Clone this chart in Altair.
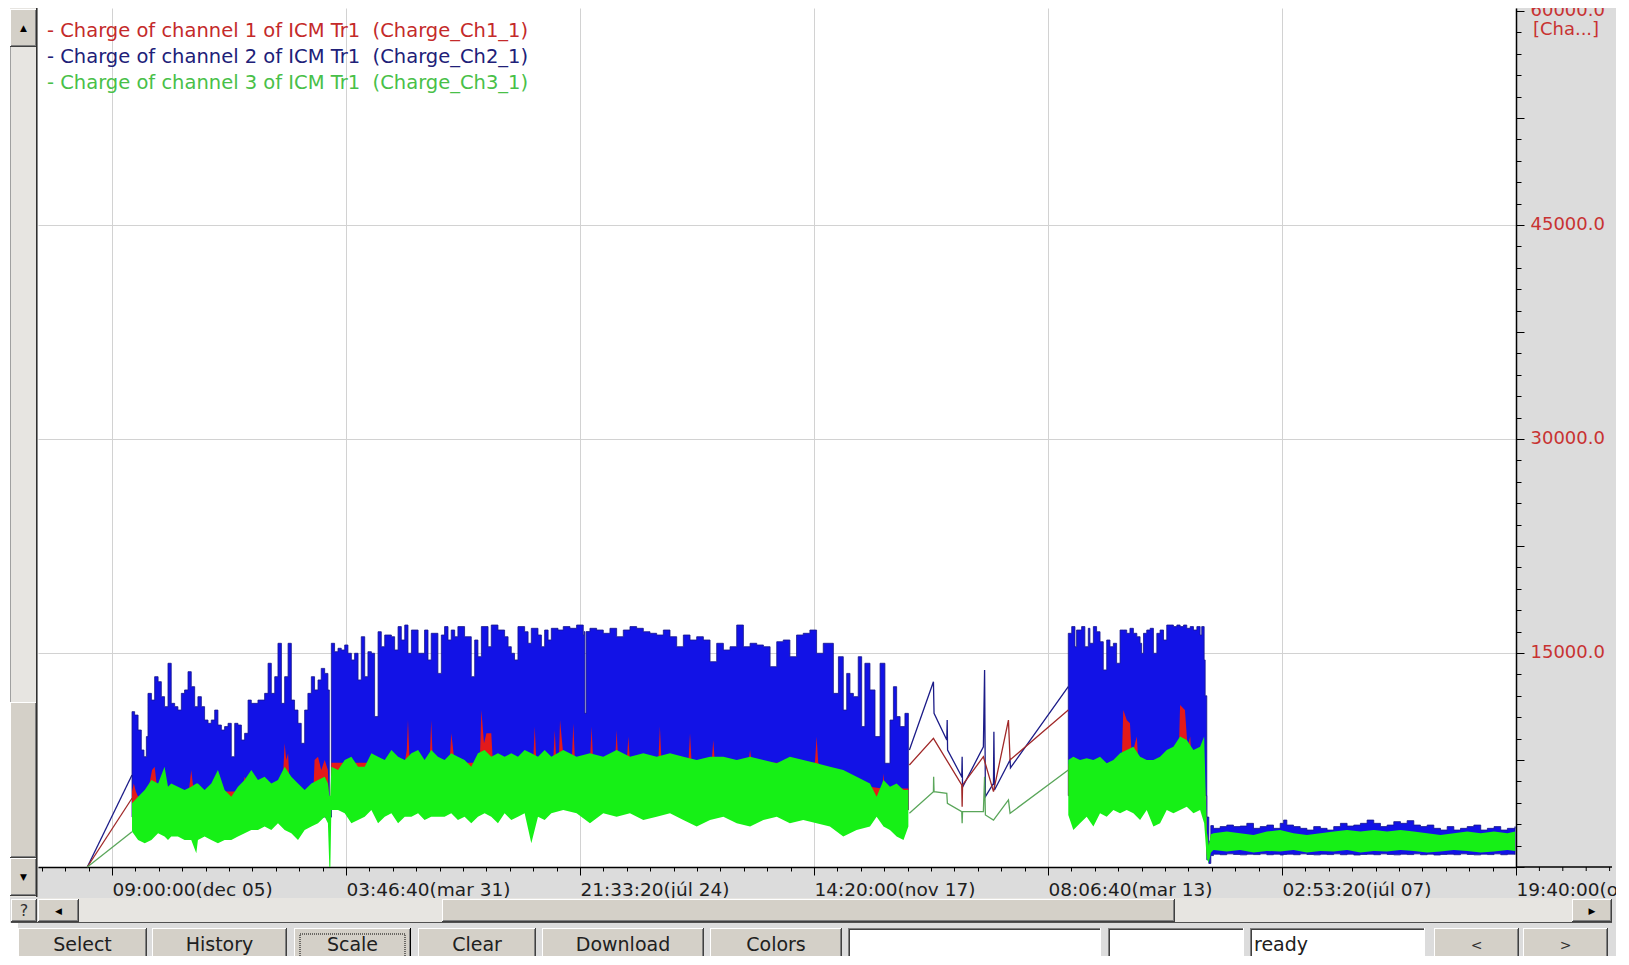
import altair as alt
import pandas as pd

# ---------------- texts ----------------
SERIES_NAMES = [
    "Charge of channel 1 of ICM Tr1\u00a0 (Charge_Ch1_1)",
    "Charge of channel 2 of ICM Tr1\u00a0 (Charge_Ch2_1)",
    "Charge of channel 3 of ICM Tr1\u00a0 (Charge_Ch3_1)",
]
X_TICK_LABELS = ["09:00:00(dec 05)", "03:46:40(mar 31)", "21:33:20(júl 24)",
                 "14:20:00(nov 17)", "08:06:40(mar 13)", "02:53:20(júl 07)",
                 "19:40:00(okt 30)"]
Y_UNIT = "[Cha...]"
BUTTONS = ["Select", "History", "Scale", "Clear", "Download", "Colors"]
STATUS = "ready"

# ---------------- data ----------------
# time = days after the first labelled tick (2009-12-05 09:00); values = charge
# dense parts are given as envelopes (day, top, bottom)
ch2_r1 = [
    (9.9, 10890, 3500), (11.2, 10650, 3500), (12.9, 9600, 3500), (14.5, 8200, 3500), (15.8, 7730, 3500),
    (17.0, 9140, 3500), (17.8, 12170, 3500), (19.5, 11700, 3500), (21.1, 13340, 3500), (22.8, 12990, 3500),
    (24.4, 11940, 3500), (26.0, 11240, 3500), (27.7, 14280, 3500), (29.3, 11470, 3500), (31.0, 11240, 3500),
    (32.6, 11000, 3500), (34.3, 12170, 3500), (35.9, 12410, 3500), (37.6, 13690, 3500), (39.2, 12640, 3500),
    (40.9, 11240, 3500), (42.5, 11940, 3500), (44.2, 11240, 3500), (45.8, 10300, 3500), (47.5, 10070, 3500),
    (49.1, 10300, 3500), (50.8, 11000, 3500), (52.4, 9950, 3500), (54.1, 9600, 3500), (55.7, 9840, 3500),
    (57.4, 10070, 3500), (59.0, 7730, 3500), (60.7, 10070, 3500), (62.3, 9950, 3500), (64.0, 8900, 3500),
    (65.6, 9370, 3500), (67.3, 11700, 3500), (68.9, 11470, 3500), (72.2, 11700, 3500), (75.5, 12170, 3500),
    (77.2, 14280, 3500), (78.8, 12170, 3500), (80.5, 13340, 3500), (82.1, 15680, 3500), (83.8, 11470, 3500),
    (85.4, 13340, 3500), (87.1, 15680, 3500), (88.7, 11700, 3500), (90.3, 11000, 3500), (92.0, 10070, 3500),
    (93.6, 8670, 3500), (95.3, 11000, 3500), (96.9, 12170, 3500), (98.6, 13340, 3500), (100.2, 12410, 3500),
    (101.9, 13110, 3500), (103.5, 13920, 3500), (105.2, 13570, 3500), (106.8, 12410, 3500), (107.5, 3500, 3500),
    (108.0, 3500, 3500), (108.5, 15680, 5000), (110.1, 15090, 5000), (111.8, 15330, 5000), (113.4, 15210, 5000),
    (115.1, 15560, 5000), (116.7, 14980, 5000), (118.4, 14510, 5000), (120.0, 14980, 5000), (121.7, 13110, 5000),
    (123.3, 16140, 5000), (125.0, 13340, 5000), (126.6, 15090, 5000), (128.3, 14980, 5000), (129.9, 10540, 5000),
    (131.6, 16490, 5000), (133.2, 15440, 5000), (134.9, 16260, 5000), (138.2, 16140, 5000), (139.8, 15210, 5000),
    (141.5, 16850, 5000), (143.1, 15910, 5000), (144.8, 16960, 5000), (146.4, 14980, 5000), (148.1, 16610, 5000),
    (151.4, 14980, 5000), (154.6, 16610, 5000), (156.3, 14510, 5000), (157.9, 16380, 5000), (161.2, 13570, 5000),
    (162.9, 16260, 5000), (164.5, 16850, 5000), (166.2, 15910, 5000), (167.8, 16610, 5000), (169.5, 16140, 5000),
    (171.1, 16850, 5000), (174.4, 16140, 5000), (177.7, 13340, 5000), (179.4, 15910, 5000), (181.0, 14740, 5000),
    (182.7, 16850, 5000), (186.0, 15440, 5000), (187.6, 16960, 5000), (190.9, 16610, 5000), (194.2, 16140, 5000),
    (195.9, 15440, 5000), (197.5, 14980, 5000), (199.1, 14510, 5000), (200.8, 16850, 5000), (204.1, 16490, 5000),
    (205.8, 15680, 5000), (207.4, 16730, 5000), (210.7, 16260, 5000), (212.4, 15440, 5000), (214.0, 16610, 5000),
    (215.7, 15910, 5000), (217.3, 16730, 5000), (220.6, 16610, 5000), (223.2, 16850, 5000), (226.5, 16730, 5000),
    (229.8, 16960, 5000), (233.1, 16260, 5000), (233.6, 16500, 5000), (233.9, 10770, 5000), (234.5, 16500, 5000),
    (236.4, 16730, 5000), (239.7, 16610, 5000), (243.0, 16380, 5000), (246.3, 16730, 5000), (249.6, 16140, 5000),
    (252.9, 16610, 5000), (256.2, 16850, 5000), (259.5, 16730, 5000), (262.8, 16490, 5000), (266.1, 16380, 5000),
    (269.4, 16260, 5000), (272.7, 16610, 5000), (276.0, 16140, 5000), (279.3, 15440, 5000), (282.6, 16260, 5000),
    (285.9, 15910, 5000), (289.2, 16140, 5000), (292.5, 15910, 5000), (295.8, 14390, 5000), (299.1, 15680, 5000),
    (302.4, 15210, 5000), (305.7, 15440, 5000), (309.0, 16960, 5000), (312.3, 15440, 5000), (315.6, 15680, 5000),
    (318.9, 15560, 5000), (322.2, 15440, 5000), (325.5, 14040, 5000), (328.8, 15790, 5000), (332.0, 15910, 5000),
    (335.3, 14740, 5000), (338.6, 16260, 5000), (341.9, 16380, 5000), (345.2, 16610, 5000), (348.5, 14980, 5000),
    (351.8, 15680, 5000), (355.1, 15680, 4000), (356.8, 12170, 4000), (359.3, 14740, 4000), (361.7, 11000, 4000),
    (363.4, 13570, 4000), (365.0, 12170, 4000), (366.7, 11940, 4000), (369.1, 14740, 4000), (370.8, 9840, 4000),
    (372.4, 14280, 4000), (374.9, 12410, 4000), (377.4, 9140, 4000), (379.9, 14280, 4000), (382.3, 7270, 4000),
    (384.8, 10300, 4000), (386.5, 12640, 4000), (388.1, 10540, 4000), (389.8, 9840, 4000), (392.2, 10770, 4000),
    (393.9, 10300, 4000),
]
ch2_r23 = [
    (473.0, 16380, 5000), (474.7, 16850, 5000), (476.3, 15440, 5000), (477.1, 16610, 5000), (479.6, 16850, 5000),
    (481.2, 15440, 5000), (482.9, 16730, 5000), (483.7, 15680, 5000), (485.4, 16850, 5000), (487.0, 16490, 5000),
    (488.7, 15790, 5000), (490.3, 13810, 5000), (492.0, 15910, 5000), (493.6, 15440, 5000), (495.3, 15680, 5000),
    (496.9, 14280, 5000), (498.6, 16610, 5000), (500.2, 16610, 5000), (501.9, 16380, 5000), (503.5, 16730, 5000),
    (505.2, 16380, 5000), (506.9, 16140, 5000), (508.5, 15680, 5000), (509.3, 14980, 5000), (510.2, 16380, 5000),
    (511.8, 16610, 5000), (513.5, 16730, 5000), (515.1, 14980, 5000), (516.8, 16380, 5000), (518.4, 16610, 5000),
    (520.1, 15910, 5000), (521.7, 16960, 5000), (523.4, 16960, 5000), (525.0, 16850, 5000), (526.7, 16960, 5000),
    (528.3, 16850, 5000), (530.0, 16960, 5000), (531.6, 16730, 5000), (533.3, 16850, 5000), (534.9, 16610, 5000),
    (536.6, 16850, 5000), (538.2, 16260, 5000), (539.0, 16850, 5000), (540.2, 14510, 5000), (540.7, 12000, 5000),
    (541.5, 3500, 500), (542.5, 1800, 250), (543.5, 2900, 800),
    (544.8, 2710, 900), (548.1, 2830, 860), (551.4, 2940, 920), (554.7, 2830, 880), (558.0, 2870, 850),
    (561.3, 3060, 900), (564.6, 2710, 870), (567.9, 2830, 920), (571.2, 2940, 860), (574.5, 2710, 900),
    (577.8, 3060, 840), (579.5, 3290, 880), (581.1, 2940, 900), (584.4, 2830, 860), (587.7, 2710, 920),
    (591.0, 2590, 880), (594.4, 2830, 850), (597.7, 2710, 900), (601.0, 2590, 870), (604.3, 2830, 920),
    (607.6, 3060, 860), (610.9, 2870, 900), (614.2, 2940, 840), (617.5, 3060, 880), (620.8, 3290, 900),
    (624.1, 3060, 860), (627.4, 2830, 920), (630.7, 2940, 880), (634.0, 3180, 850), (637.3, 3060, 900),
    (640.6, 3250, 870), (643.9, 2940, 920), (647.2, 2830, 860), (650.5, 2940, 900), (653.8, 2710, 840),
    (657.1, 2590, 880), (660.4, 2830, 900), (663.7, 2590, 860), (667.0, 2710, 920), (670.3, 2830, 880),
    (673.6, 2940, 850), (677.0, 2590, 900), (680.3, 2710, 870), (683.6, 2830, 920), (686.9, 2590, 860),
    (690.2, 2710, 900), (694.0, 2830, 880),
]
ch1_r1 = [
    (9.9, 5300, 3500), (10.8, 5860, 3500), (11.8, 5300, 3500), (12.9, 4930, 3500), (17.8, 5300, 3500),
    (19.8, 6800, 3500), (21.1, 7030, 3500), (22.5, 5300, 3500), (38.0, 5300, 3500), (39.2, 6800, 3500),
    (40.4, 5300, 3500), (64.0, 5300, 3500), (65.6, 6330, 3500), (67.3, 5860, 3500), (68.9, 6560, 3500),
    (70.5, 5300, 3500), (84.2, 5300, 3500), (85.4, 8670, 3500), (86.2, 7500, 3500), (87.1, 7970, 3500),
    (88.0, 5300, 3500), (99.6, 5300, 3500), (100.2, 7500, 3500), (101.9, 7730, 3500), (103.5, 6800, 3500),
    (105.2, 7500, 3500), (106.8, 6800, 3500), (107.5, 3500, 3500), (108.0, 3500, 3500), (108.5, 7300, 5000),
    (144.8, 7300, 5000), (145.8, 8200, 5000), (146.4, 10300, 5000), (147.2, 7300, 5000), (157.1, 7300, 5000),
    (157.9, 10300, 5000), (158.7, 7300, 5000), (167.0, 7300, 5000), (167.8, 9370, 5000), (168.6, 8430, 5000),
    (169.4, 7300, 5000), (181.9, 7300, 5000), (182.7, 11000, 5000), (184.0, 8670, 5000), (185.2, 9370, 5000),
    (187.6, 9370, 5000), (188.4, 7300, 5000), (208.3, 7300, 5000), (209.1, 9840, 5000), (209.9, 7300, 5000),
    (218.2, 7300, 5000), (219.0, 9600, 5000), (219.8, 7300, 5000), (221.0, 7300, 5000), (221.6, 10300, 5000),
    (223.0, 8200, 5000), (224.0, 7300, 5000), (227.4, 7300, 5000), (228.2, 10070, 5000), (229.0, 7300, 5000),
    (236.4, 7300, 5000), (237.2, 9840, 5000), (238.0, 7300, 5000), (248.8, 7300, 5000), (249.6, 9600, 5000),
    (250.4, 7300, 5000), (254.6, 7300, 5000), (255.4, 9140, 5000), (256.2, 7300, 5000), (270.2, 7300, 5000),
    (271.0, 9840, 5000), (271.8, 7300, 5000), (285.1, 7300, 5000), (285.9, 9370, 5000), (286.7, 7300, 5000),
    (296.6, 7300, 5000), (297.4, 8900, 5000), (298.2, 7300, 5000), (314.8, 7300, 5000), (315.6, 8200, 5000),
    (316.4, 7300, 5000), (347.7, 7300, 5000), (348.5, 9140, 5000), (349.3, 7300, 5000), (356.0, 6000, 4000),
    (381.0, 5500, 4000), (381.6, 6560, 4000), (382.2, 5500, 4000), (393.9, 5500, 4000),
]
ch1_r23 = [
    (473.0, 7200, 5000), (499.4, 7200, 5000), (500.2, 11000, 5000), (501.9, 10300, 5000), (503.5, 10070, 5000),
    (504.4, 7800, 5000), (506.9, 9140, 5000), (507.7, 7200, 5000), (527.5, 7200, 5000), (528.3, 11350, 5000),
    (530.7, 11000, 5000), (532.0, 8400, 5000), (533.3, 9140, 5000), (534.1, 7200, 5000), (540.2, 7200, 5000),
    (541.5, 2500, 800), (542.5, 1400, 400), (543.5, 2200, 1250),
    (544.8, 2200, 1250), (558.0, 2200, 1250), (571.2, 2200, 1250), (584.4, 2200, 1250), (597.7, 2200, 1250),
    (610.9, 2200, 1250), (624.1, 2200, 1250), (637.3, 2200, 1250), (650.5, 2200, 1250), (663.7, 2200, 1250),
    (677.0, 2200, 1250), (690.2, 2200, 1250), (694.0, 2200, 1250),
]
ch3_r1 = [
    (9.9, 4460, 2480), (12.9, 4930, 1890), (16.2, 5400, 1660), (19.5, 6100, 1890), (22.8, 5860, 2360),
    (26.0, 7030, 2130), (27.7, 5630, 1890), (29.3, 5860, 2130), (32.6, 5630, 2130), (35.9, 5400, 1890),
    (39.2, 5630, 1890), (41.7, 5860, 960), (42.5, 5860, 1890), (45.8, 5400, 2130), (49.1, 5860, 1890),
    (52.4, 6800, 1660), (55.7, 5400, 1890), (59.0, 4930, 1890), (62.3, 5630, 2130), (65.6, 6100, 2360),
    (68.9, 6800, 2590), (72.2, 6100, 2590), (75.5, 6330, 2830), (78.8, 5860, 2590), (82.1, 6100, 3060),
    (85.4, 7030, 2590), (88.7, 6330, 2360), (92.0, 5860, 1890), (95.3, 5400, 2590), (98.6, 5860, 2830),
    (101.9, 6100, 3060), (105.2, 6330, 3530), (106.8, 5860, 3060), (107.5, 5000, 0), (108.0, 5000, 0),
    (108.5, 7030, 3990), (111.8, 6800, 3990), (115.1, 7500, 3760), (118.4, 7730, 3060), (121.7, 7030, 3290),
    (125.0, 7030, 3530), (128.3, 7970, 3990), (131.6, 7730, 3060), (134.9, 7500, 3530), (138.2, 8200, 3760),
    (141.5, 7730, 3060), (144.8, 7500, 3530), (148.1, 7970, 3530), (151.4, 8200, 3760), (154.6, 7500, 3290),
    (157.9, 8200, 3530), (161.2, 7730, 3530), (164.5, 7500, 3530), (167.8, 7970, 3760), (171.1, 7730, 3290),
    (174.4, 7500, 3530), (177.7, 7030, 3060), (181.0, 7970, 3530), (184.3, 8200, 3760), (187.6, 7730, 3530),
    (190.9, 7970, 3060), (194.2, 7730, 3760), (197.5, 7970, 3290), (200.8, 7730, 3530), (204.1, 8200, 3760),
    (207.4, 7970, 1660), (210.7, 7730, 3530), (214.0, 8200, 3290), (217.3, 7730, 3760), (223.2, 8200, 3990),
    (229.8, 7730, 3760), (236.4, 7970, 3060), (243.0, 7730, 3760), (249.6, 8200, 3530), (256.2, 7730, 3760),
    (262.8, 7970, 3290), (269.4, 7730, 3530), (276.0, 7970, 3760), (282.6, 7730, 3290), (289.2, 7500, 2830),
    (295.8, 7730, 3290), (302.4, 7730, 3530), (309.0, 7500, 3060), (315.6, 7730, 2830), (322.2, 7500, 3290),
    (328.8, 7270, 3530), (335.3, 7730, 3060), (341.9, 7500, 3290), (348.5, 7270, 3060), (355.1, 7030, 2830),
    (361.7, 6800, 2130), (368.3, 6330, 2590), (374.9, 5860, 2830), (378.2, 4930, 3530), (381.6, 6100, 2830),
    (384.8, 5630, 2590), (388.1, 5860, 2130), (391.5, 5400, 1890), (393.9, 5400, 2830),
]
ch3_r23 = [
    (473.0, 7500, 3640), (475.5, 7730, 2590), (478.8, 7500, 3060), (482.1, 7620, 3530), (485.4, 7500, 2830),
    (488.7, 7730, 3760), (492.0, 7270, 3530), (495.3, 7500, 3990), (498.6, 7970, 3760), (501.9, 8200, 3990),
    (505.2, 8430, 3760), (508.5, 7730, 3290), (511.8, 7500, 3990), (515.1, 7500, 2830), (518.4, 7730, 3060),
    (521.7, 8200, 3990), (525.0, 8430, 3760), (528.3, 9140, 3990), (531.6, 8900, 4230), (534.9, 8200, 3760),
    (538.2, 8430, 3990), (540.2, 9140, 3060), (541.5, 2500, 600), (542.5, 1500, 300), (543.5, 2300, 1000),
    (544.8, 2360, 1190), (551.4, 2480, 1080), (558.0, 2360, 1190), (564.6, 2250, 1020), (571.2, 2480, 1130),
    (577.8, 2590, 1080), (584.4, 2360, 1190), (591.0, 2250, 1020), (597.7, 2360, 1130), (604.3, 2480, 1080),
    (610.9, 2590, 1190), (617.5, 2480, 1020), (624.1, 2590, 1130), (630.7, 2480, 1080), (637.3, 2590, 1190),
    (643.9, 2480, 1130), (650.5, 2360, 1020), (657.1, 2250, 1080), (663.7, 2360, 1190), (670.3, 2480, 1130),
    (677.0, 2360, 1020), (683.6, 2480, 1080), (690.2, 2360, 1190), (694.0, 2480, 1130),
]
# sparse stretches drawn as plain lines (day, value)
ch2_s0 = [(-12.2, 0), (9.9, 6450)]
ch1_s0 = [(-12.2, 0), (9.9, 4820)]
ch3_s0 = [(-12.2, 0), (9.9, 2470)]
ch2_s1 = [(394.4, 8200), (406.3, 12990), (406.6, 10770), (412.9, 8900), (413.1, 10300), (413.3, 8200),
          (420.3, 6330), (420.5, 7730), (420.7, 5600), (431.0, 8430), (431.6, 13810), (432.0, 4930),
          (436.0, 5870), (436.2, 9480), (436.5, 5400), (444.2, 7500), (444.4, 6950), (473.0, 12640)]
ch1_s1 = [(394.4, 7150), (406.3, 9020), (420.3, 5750), (420.5, 4230), (420.7, 5750), (431.0, 7730),
          (436.0, 5280), (443.4, 10300), (444.2, 7500), (473.0, 11000)]
ch3_s1 = [(394.4, 3760), (406.3, 5280), (406.4, 6330), (406.6, 5280), (412.9, 5160), (413.2, 4460),
          (420.3, 3880), (420.5, 3060), (420.7, 3880), (431.0, 3880), (431.6, 6330), (432.0, 3650),
          (436.0, 3290), (443.4, 4700), (444.2, 3760), (473.0, 6800)]

# ---------------- styles ----------------
BLUE, RED, GREEN = "#1212e6", "#e31a1a", "#16f016"
BLUE_L, RED_L, GREEN_L = "#1c1c88", "#a02828", "#5aa65a"
LEG_COL = ["#c42a2a", "#202078", "#48c048"]
FONT = "DejaVu Sans"
W, H = 1478, 859
OX, OY = 38, 8  # plot origin in window pixels
X_END = 6e7 / 86400  # last labelled tick = right edge of the plot

def band(rows, seg):
    return pd.DataFrame(rows, columns=["day", "hi", "lo"]).assign(seg=seg)

def line(rows, seg):
    return pd.DataFrame(rows, columns=["day", "v"]).assign(seg=seg)

xs = alt.Scale(domain=[-36.6, X_END + 1e-6], nice=False, zero=False)
ys = alt.Scale(domain=[0, 60207], nice=False, zero=False)

lab_arr = "[" + ",".join("'" + s + "'" for s in X_TICK_LABELS) + "]"
MAJ_X = "round(datum.value * 0.0864) % 10 == 0"
x_axis = alt.Axis(
    values=[k * 1e6 / 86400 for k in range(-3, 61)],
    labelExpr=f"{MAJ_X} ? {lab_arr}[round(datum.value * 0.00864)] : ''",
    tickSize={"condition": {"test": MAJ_X, "value": 8}, "value": 4},
    grid=True, gridColor="#d2d2d2", gridWidth=1,
    gridOpacity={"condition": {"test": MAJ_X, "value": 1}, "value": 0},
    domainColor="#000000", domainWidth=1.5, tickColor="#000000", tickWidth=1,
    labelFont=FONT, labelFontSize=18.5, labelColor="#1e1e1e",
    labelAlign="left", labelBaseline="alphabetic", labelPadding=20,
    labelOverlap=False, labelFlush=False, labelBound=False, title=None,
)
Y_MID = "datum.value % 7500 == 0"
y_axis = alt.Axis(
    orient="right",
    values=[i * 1500 for i in range(0, 41)],
    labelExpr="datum.value % 15000 == 0 && datum.value > 0 ? format(datum.value, '.1f') : ''",
    tickSize={"condition": {"test": Y_MID, "value": 8}, "value": 5},
    grid=True, gridColor="#d2d2d2", gridWidth=1,
    gridOpacity={"condition": {"test": "datum.value % 15000 == 0 && datum.value > 0 && datum.value < 59000",
                               "value": 1}, "value": 0},
    domainColor="#000000", domainWidth=1.5, tickColor="#000000", tickWidth=1,
    labelFont=FONT, labelFontSize=18, labelColor="#c83232",
    labelAlign="left", labelBaseline="middle", labelPadding=6,
    labelOverlap=False, labelFlush=False, labelBound=False, title=None,
)

def area_layer(df, color, interp, edge=None):
    kw = {"stroke": edge, "strokeWidth": 0.8} if edge else {}
    return alt.Chart(df).mark_area(color=color, interpolate=interp, opacity=1, **kw).encode(
        x=alt.X("day:Q", scale=xs, axis=x_axis),
        y=alt.Y("hi:Q", scale=ys, axis=y_axis),
        y2="lo:Q",
        detail="seg:N",
    )

def line_layer(df, color):
    return alt.Chart(df).mark_line(color=color, strokeWidth=1.3).encode(
        x=alt.X("day:Q", scale=xs, axis=x_axis),
        y=alt.Y("v:Q", scale=ys, axis=y_axis),
        detail="seg:N",
    )

blue_band = area_layer(pd.concat([band(ch2_r1, "a"), band(ch2_r23, "b")]), BLUE, "step-after", edge="#16168c")
red_band = area_layer(pd.concat([band(ch1_r1, "a"), band(ch1_r23, "b")]), RED, "linear")
green_band = area_layer(pd.concat([band(ch3_r1, "a"), band(ch3_r23, "b")]), GREEN, "linear")
blue_line = line_layer(pd.concat([line(ch2_s0, "s0"), line(ch2_s1, "s1")]), BLUE_L)
red_line = line_layer(pd.concat([line(ch1_s0, "s0"), line(ch1_s1, "s1")]), RED_L)
green_line = line_layer(pd.concat([line(ch3_s0, "s0"), line(ch3_s1, "s1")]), GREEN_L)

# ---------------- window chrome (pixel layout) ----------------
FACE, TRACK = "#d4d0c8", "#e7e5e1"

def raised(x0, y0, x1, y1, outer="#404040"):
    return [(x0, y0, x1, y1, outer), (x0, y0, x1 - 1, y1 - 1, "#ffffff"),
            (x0 + 1, y0 + 1, x1 - 1, y1 - 1, "#808080"), (x0 + 1, y0 + 1, x1 - 2, y1 - 2, FACE)]

def sunken(x0, y0, x1, y1):
    return [(x0, y0, x1, y1, "#ffffff"), (x0, y0, x1 - 1, y1 - 1, "#808080"),
            (x0 + 1, y0 + 1, x1 - 1, y1 - 1, "#404040"), (x0 + 2, y0 + 2, x1 - 1, y1 - 1, "#ffffff")]

rects = [(8, 8, 10, 960, "#ffffff"), (8, 923, 18, 960, "#ffffff"),
         (10, 8, 37, 897, TRACK), (10, 47, 11, 702, "#a0a0a0")]
rects += raised(10, 9, 37, 47) + raised(10, 702, 37, 858) + raised(10, 858, 37, 896)
rects += [(36, 8, 37.5, 897, "#303030")]
rects += raised(11, 899, 37, 922)
rects += [(38, 898, 1612, 922, TRACK)]
rects += raised(38, 899, 79, 922) + raised(442, 899, 1175, 922) + raised(1572, 899, 1612, 922)
rects += [(11, 922, 1612, 923, "#505050")]
button_x = [(18, 147), (152, 287), (294, 411), (418, 536), (542, 704), (710, 842)]
for i, (a, b) in enumerate(button_x):
    rects += raised(a, 928, b, 968, outer="#000000" if BUTTONS[i] == "Scale" else "#404040")
rects += sunken(848, 928, 1101, 968) + sunken(1108, 928, 1244, 968) + sunken(1250, 928, 1425, 968)
rects += raised(1434, 928, 1519, 968) + raised(1523, 928, 1608, 968)
# x axis continues under the right-hand axis panel
rects += [(1516, 866.3, 1612, 867.8, "#000000")]
rects += [(x - 0.5, 867, x + 0.5, 871, "#000000") for x in (1539.4, 1562.8, 1586.2, 1609.6)]

rect_df = pd.DataFrame(rects, columns=["x0", "y0", "x1", "y1", "fill"])
rect_df[["x0", "x1"]] -= OX
rect_df[["y0", "y1"]] -= OY
rect_df["i"] = range(len(rect_df))
chrome = alt.Chart(rect_df).mark_rect(strokeWidth=0).encode(
    x=alt.X("x0:Q", scale=None, axis=None), x2="x1:Q",
    y=alt.Y("y0:Q", scale=None, axis=None), y2="y1:Q",
    color=alt.Color("fill:N", scale=None, legend=None),
    order="i:Q",
)
focus = alt.Chart(pd.DataFrame({"a": [0]})).mark_rect(
    fill=None, stroke="#000000", strokeDash=[1, 1], strokeWidth=1).encode(
    x=alt.value(300 - OX), x2=alt.value(405 - OX), y=alt.value(934 - OY), y2=alt.value(960 - OY))

def text_layer(rows, align, baseline):
    df = pd.DataFrame(rows, columns=["x", "y", "text", "color", "size"])
    df["x"] -= OX
    df["y"] -= OY
    return alt.Chart(df).mark_text(align=align, baseline=baseline, font=FONT).encode(
        x=alt.X("x:Q", scale=None, axis=None), y=alt.Y("y:Q", scale=None, axis=None),
        text="text:N", color=alt.Color("color:N", scale=None, legend=None),
        size=alt.Size("size:Q", scale=None, legend=None),
    )

legend_txt = text_layer([(47, 37 + 26 * i, "- " + n, LEG_COL[i], 19.5) for i, n in enumerate(SERIES_NAMES)],
                        "left", "alphabetic")
btn_txt = text_layer([((a + b) / 2, 951, BUTTONS[i], "#202020", 19) for i, (a, b) in enumerate(button_x)]
                     + [(1476.5, 950, "<", "#303030", 14), (1565.5, 950, ">", "#303030", 14),
                        (1566, 35, Y_UNIT, "#c83232", 18)],
                     "center", "alphabetic")
status_txt = text_layer([(1254, 951, STATUS, "#202020", 19)], "left", "alphabetic")
glyph_txt = text_layer([(23.5, 28, "▲", "#000000", 9), (23.5, 877, "▼", "#000000", 9),
                        (58.5, 910.5, "◀", "#000000", 9), (1592, 910.5, "▶", "#000000", 9),
                        (24, 911, "?", "#303030", 16)], "center", "middle")

chart = alt.layer(
    blue_band, red_band, green_band, blue_line, red_line, green_line,
    chrome, focus, legend_txt, btn_txt, status_txt, glyph_txt,
).properties(
    width=W, height=H,
    autosize=alt.AutoSizeParams(type="none"),
    padding={"left": 30, "top": 0, "right": 100, "bottom": 89},
    background="#dcdcdc",
).configure_view(fill="white", stroke=None)

chart.save("out.html", embed_options={"renderer": "svg", "actions": False})
